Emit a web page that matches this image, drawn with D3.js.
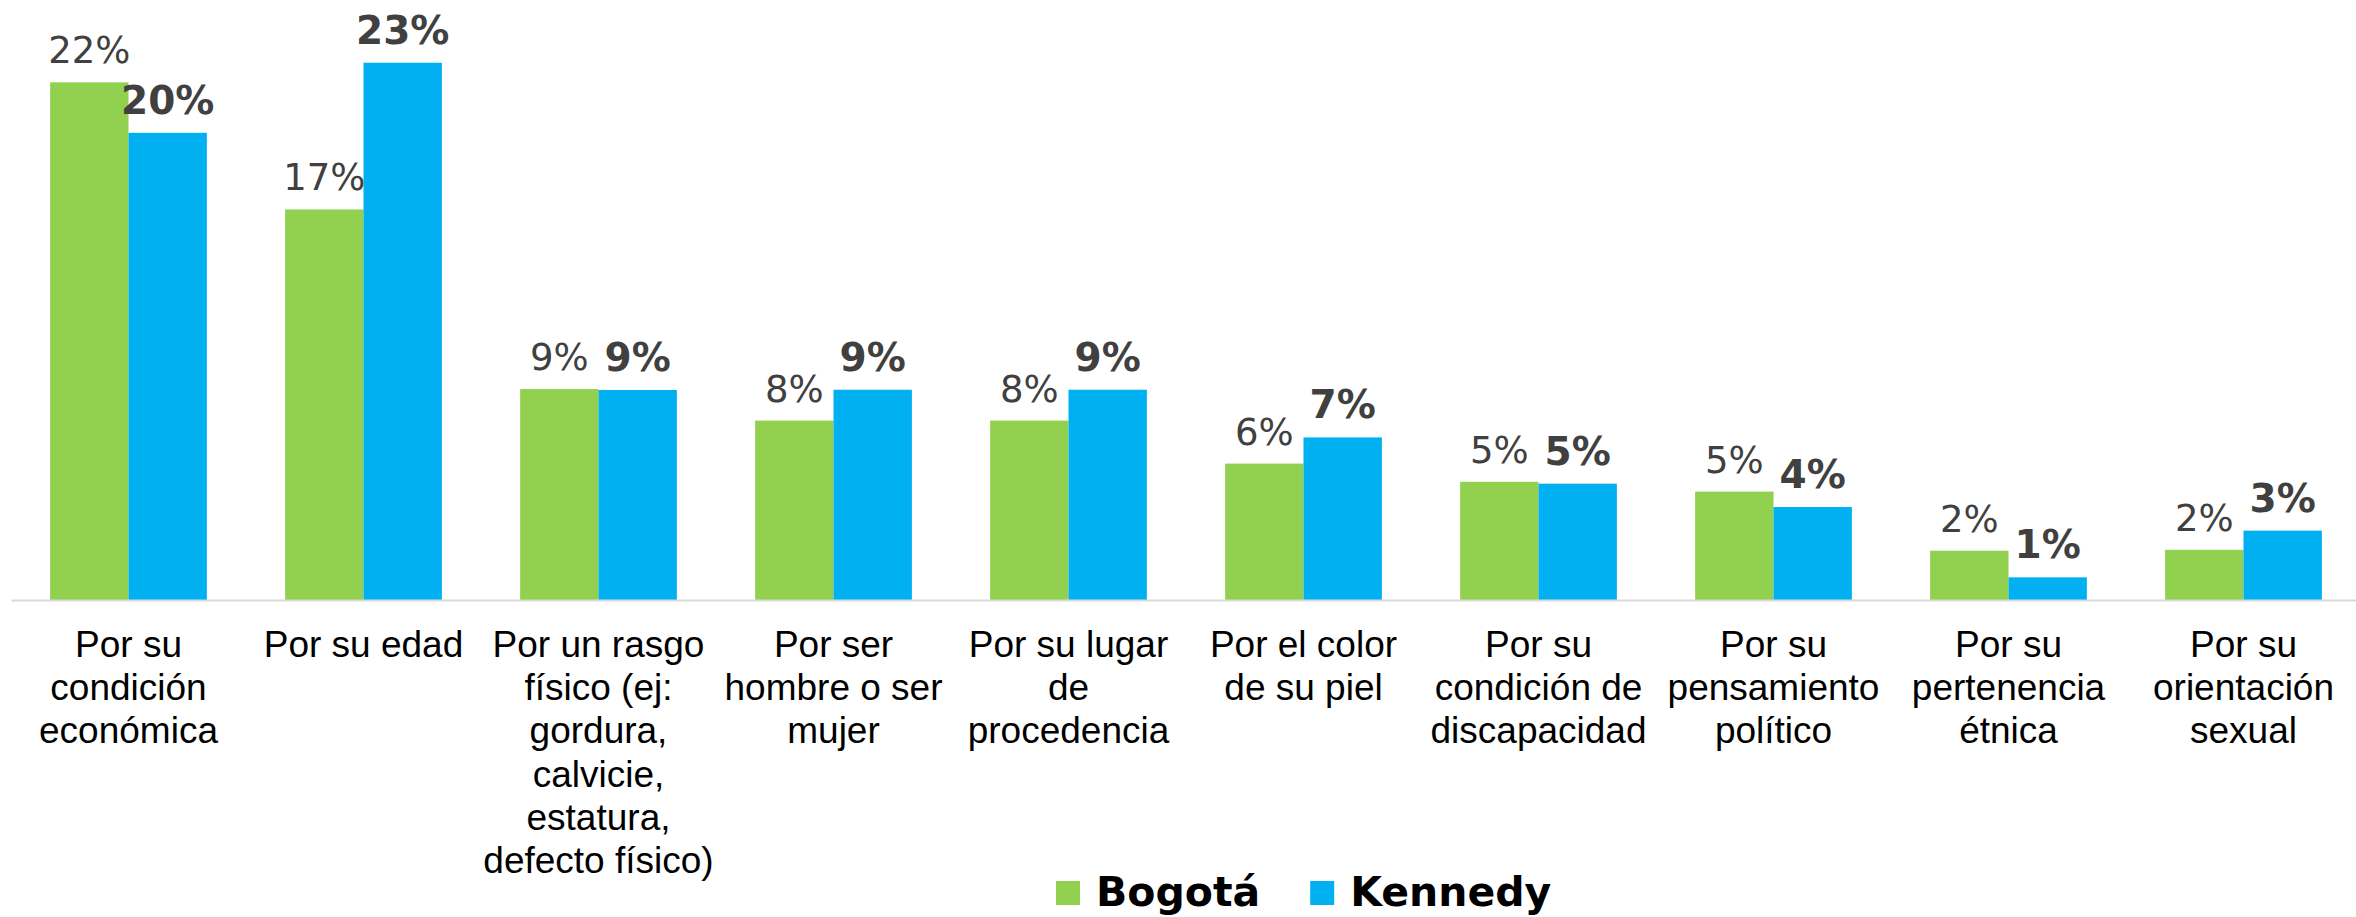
<!DOCTYPE html>
<html>
<head>
<meta charset="utf-8">
<script src="https://cdn.jsdelivr.net/npm/d3@7"></script>
<style>
  body { margin: 0; background: #fff; }
</style>
</head>
<body>
<svg id="chart"></svg>
<script>
// data (percent)
var categories = [
  "Por su\ncondición\neconómica",
  "Por su edad",
  "Por un rasgo\nfísico (ej:\ngordura,\ncalvicie,\nestatura,\ndefecto físico)",
  "Por ser\nhombre o ser\nmujer",
  "Por su lugar\nde\nprocedencia",
  "Por el color\nde su piel",
  "Por su\ncondición de\ndiscapacidad",
  "Por su\npensamiento\npolítico",
  "Por su\npertenencia\nétnica",
  "Por su\norientación\nsexual"
];
var seriesNames = ["Bogotá", "Kennedy"];
var bogota  = [22.16, 16.72, 9.03, 7.68, 7.68, 5.84, 5.06, 4.64, 2.11, 2.15];
var kennedy = [20.0, 23.0, 8.99, 9.0, 9.0, 6.96, 4.98, 3.98, 0.97, 2.97];
var colors = ["#92d050", "#00b0f0"];

var width = 2356,
    height = 917;

var svg = d3.select("#chart")
  .attr("width", width)
  .attr("height", height)
  .style("display", "block");

var data = categories.map(function(c, i) {
  return {cat: c, values: [bogota[i], kennedy[i]]};
});

// scales
var x0 = d3.scaleBand()
  .domain(categories)
  .range([11, 2361])
  .paddingInner(0.333)
  .paddingOuter(0.1665);

var x1 = d3.scaleBand()
  .domain(seriesNames)
  .range([0, x0.bandwidth()]);

var y = d3.scaleLinear()
  .domain([0, 25])
  .range([600, 16]);

// bars
var groups = svg.append("g")
  .selectAll("g")
  .data(data)
  .enter()
  .append("g")
  .attr("transform", function(d) { return "translate(" + x0(d.cat) + ",0)"; });

groups.selectAll("rect")
  .data(function(d) { return d.values.map(function(v, j) { return {name: seriesNames[j], v: v, j: j}; }); })
  .enter()
  .append("rect")
  .attr("x", function(d) { return x1(d.name); })
  .attr("width", x1.bandwidth())
  .attr("y", function(d) { return y(d.v); })
  .attr("height", function(d) { return y(0) - y(d.v); })
  .attr("fill", function(d) { return colors[d.j]; });

// value labels (Kennedy in bold)
groups.selectAll("text")
  .data(function(d) { return d.values.map(function(v, j) { return {name: seriesNames[j], v: v, j: j}; }); })
  .enter()
  .append("text")
  .attr("x", function(d) { return x1(d.name) + x1.bandwidth() / 2; })
  .attr("y", function(d) { return y(d.v) - 19; })
  .attr("text-anchor", "middle")
  .style("font-family", "'DejaVu Sans', Verdana, sans-serif")
  .style("font-size", function(d) { return d.j == 1 ? "39px" : "37px"; })
  .style("font-weight", function(d) { return d.j == 1 ? "bold" : "normal"; })
  .style("fill", "#404040")
  .text(function(d) { return Math.round(d.v) + "%"; });

// X axis
var xAxis = svg.append("g")
  .attr("transform", "translate(0," + y(0) + ")")
  .call(d3.axisBottom(x0).tickSize(0).tickSizeOuter(0));

xAxis.select(".domain")
  .attr("stroke", "#d9d9d9")
  .attr("stroke-width", 2);

xAxis.selectAll(".tick text")
  .attr("y", null)
  .attr("dy", null)
  .style("font-family", "'Liberation Sans', Arial, sans-serif")
  .style("font-size", "37px")
  .style("fill", "#000")
  .each(function(d) {
    var t = d3.select(this);
    t.text(null);
    d.split("\n").forEach(function(line, i) {
      t.append("tspan")
        .attr("x", 0)
        .attr("y", 57 + i * 43.2)
        .text(line);
    });
  });

// legend
var legend = svg.append("g");
var lx = 1056;
seriesNames.forEach(function(name, i) {
  legend.append("rect")
    .attr("x", lx)
    .attr("y", 881)
    .attr("width", 24)
    .attr("height", 24)
    .attr("fill", colors[i]);
  var txt = legend.append("text")
    .attr("x", lx + 40)
    .attr("y", 906)
    .style("font-family", "'DejaVu Sans', Verdana, sans-serif")
    .style("font-size", "41px")
    .style("font-weight", "bold")
    .style("fill", "#000")
    .text(name);
  lx = lx + 40 + txt.node().getComputedTextLength() + 50;
});
</script>
</body>
</html>
